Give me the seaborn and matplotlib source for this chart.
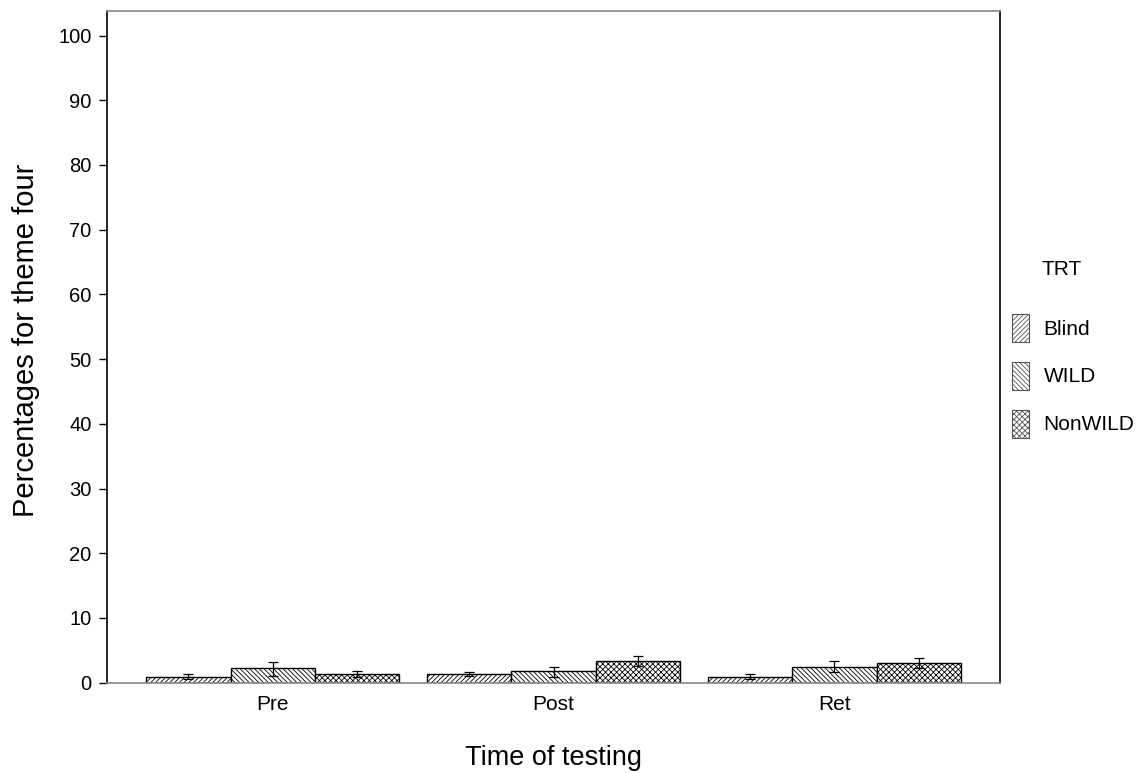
import seaborn as sns
import matplotlib.pyplot as plt
import pandas as pd
from matplotlib.patches import Patch

# data
times = ["Pre", "Post", "Ret"]
groups = ["Blind", "WILD", "NonWILD"]
blind_mean = [0.93, 1.35, 0.93]
wild_mean = [2.2, 1.75, 2.4]
nonwild_mean = [1.35, 3.4, 3.0]
blind_lo = [0.6, 1.05, 0.6]
blind_hi = [1.3, 1.7, 1.3]
wild_lo = [1.1, 0.95, 1.65]
wild_hi = [3.2, 2.5, 3.3]
nonwild_lo = [0.93, 2.6, 2.2]
nonwild_hi = [1.85, 4.2, 3.75]
y_ticks = list(range(0, 101, 10))

sns.set_theme(style="white")
plt.rcParams['font.family'] = ['Liberation Sans', 'DejaVu Sans']
for k in ['text.color', 'axes.labelcolor', 'xtick.color', 'ytick.color']:
    plt.rcParams[k] = 'black'
plt.rcParams['hatch.linewidth'] = 0.6
plt.rcParams['hatch.color'] = '#333333'

means = {"Blind": blind_mean, "WILD": wild_mean, "NonWILD": nonwild_mean}
lows = {"Blind": blind_lo, "WILD": wild_lo, "NonWILD": nonwild_lo}
highs = {"Blind": blind_hi, "WILD": wild_hi, "NonWILD": nonwild_hi}
rows = []
for g in groups:
    for i, t in enumerate(times):
        rows.append({"time": t, "TRT": g, "pct": means[g][i],
                     "lo": lows[g][i], "hi": highs[g][i]})
df = pd.DataFrame(rows)

hatches = {"Blind": "/" * 7, "WILD": "\\" * 7, "NonWILD": "x" * 6}

fig = plt.figure(figsize=(11.43, 7.73), dpi=100)
ax = fig.add_axes([0.0936, 0.1168, 0.875 - 0.0936, 0.9858 - 0.1168])

sns.barplot(data=df, x="time", y="pct", hue="TRT", order=times, hue_order=groups,
            errorbar=None, width=0.9, gap=0, palette=["white"] * 3,
            edgecolor="black", linewidth=1.0, legend=False, ax=ax)

for cont, g in zip(ax.containers, groups):
    sub = df[df.TRT == g].set_index("time").loc[times]
    for bar, (_, r) in zip(cont, sub.iterrows()):
        bar.set_hatch(hatches[g])
        xc = bar.get_x() + bar.get_width() / 2
        ax.errorbar(xc, r.pct, yerr=[[r.pct - r.lo], [r.hi - r.pct]],
                    color="black", lw=0.9, capsize=3.3, capthick=0.9, zorder=4)

ax.set_xlim(-0.59, 2.59)
ax.set_ylim(0, 103.8)
ax.set_yticks(y_ticks)
ax.tick_params(axis="y", which="major", left=True, length=6, width=1, color="black",
               labelsize=14.5, pad=5)
ax.tick_params(axis="x", length=0, labelsize=15, pad=9)
for s in ["left", "right"]:
    ax.spines[s].set_color("black")
for s in ["top", "bottom"]:
    ax.spines[s].set_color("#888888")
for s in ax.spines.values():
    s.set_linewidth(1.2)

ax.set_xlabel("Time of testing", fontsize=19.5, labelpad=22)
ax.set_ylabel("Percentages for theme four", fontsize=21)
ax.yaxis.set_label_coords(-0.075, 0.51)

handles = [Patch(facecolor="white", edgecolor="#555555", hatch=hatches[g], lw=0.8) for g in groups]
leg = fig.legend(handles, groups, loc="upper left", bbox_to_anchor=(0.878, 0.605),
                 frameon=False, fontsize=15, handlelength=0.82, handleheight=1.7,
                 handletextpad=0.7, labelspacing=0.95, borderaxespad=0)
fig.text(0.9116, 0.652, "TRT", fontsize=15, va="center", ha="left")

fig.savefig("out.png", dpi=100)
